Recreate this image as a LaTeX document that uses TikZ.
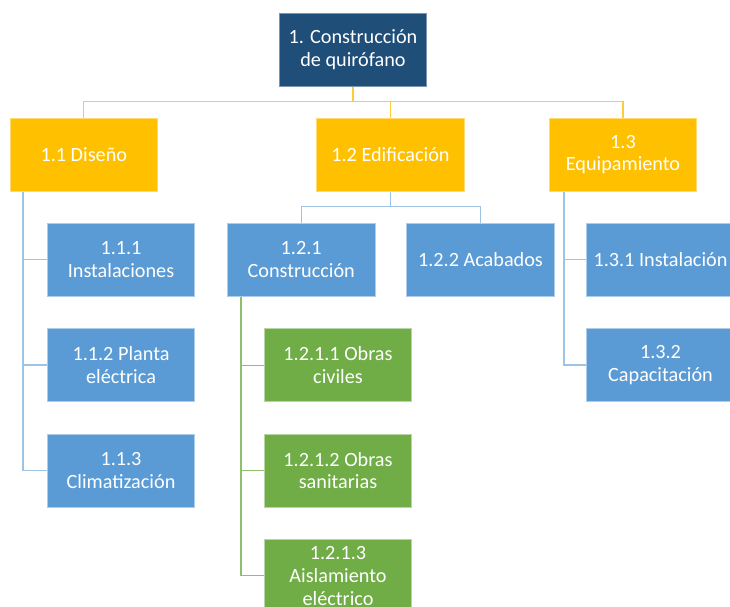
\documentclass[tikz,border=0pt]{standalone}
\usepackage{fontspec}
\setmainfont{Carlito}
\usetikzlibrary{calc}
\definecolor{topblue}{HTML}{1F4E79}
\definecolor{gold}{HTML}{FFC000}
\definecolor{midblue}{HTML}{5B9BD5}
\definecolor{leaf}{HTML}{70AD47}
\definecolor{goldline}{HTML}{FFCB3A}
\definecolor{blueline}{HTML}{9DC3E6}
\definecolor{greenline}{HTML}{8CC16B}
\tikzset{
  box/.style={rectangle, inner sep=0pt, minimum width=147.5bp, minimum height=73bp,
    align=center, text=white, font=\fontsize{20.3}{22.8}\selectfont, line width=0.8bp},
  rootbox/.style={box, fill=topblue, draw=topblue!60!white},
  phasebox/.style={box, fill=gold, draw=gold!55!white},
  taskbox/.style={box, fill=midblue, draw=midblue!50!white},
  subbox/.style={box, fill=leaf, draw=leaf!50!white},
  goldlink/.style={draw=goldline, line width=1.3bp},
  bluelink/.style={draw=blueline, line width=1.3bp},
  greenlink/.style={draw=greenline, line width=1.3bp}
}
\begin{document}
\begin{tikzpicture}[x=1bp,y=-1bp]
\useasboundingbox (0,0) rectangle (730,607);
\clip (0,0) rectangle (730,607);

% root
\node[rootbox, minimum height=73bp] (root) at (353,49.7) {1. Construcción\\de quirófano};

% level 1
\node[phasebox] (d) at (83.8,154.6) {1.1 Diseño};
\node[phasebox] (e) at (390.5,154.6) {1.2 Edificación};
\node[phasebox] (q) at (623,154.6) {1.3\\Equipamiento};

% level 2
\node[taskbox] (d1) at (121,259.8) {1.1.1\\Instalaciones};
\node[taskbox] (d2) at (121,365) {1.1.2 Planta\\eléctrica};
\node[taskbox] (d3) at (121,470.6) {1.1.3\\Climatización};
\node[taskbox] (e1) at (301.2,259.8) {1.2.1\\Construcción};
\node[taskbox] (e2) at (480.5,259.8) {1.2.2 Acabados};
\node[taskbox] (q1) at (660.5,259.8) {1.3.1 Instalación};
\node[taskbox] (q2) at (660.5,365) {1.3.2\\Capacitación};

% level 3
\node[subbox] (c1) at (338,365.3) {1.2.1.1 Obras\\civiles};
\node[subbox] (c2) at (338,470.6) {1.2.1.2 Obras\\sanitarias};
\node[subbox] (c3) at (338,575.8) {1.2.1.3\\Aislamiento\\eléctrico};

% root to phases
\coordinate (bus) at (353,101.7);
\draw[goldlink] (root.south) -- (root.south |- bus);
\draw[goldlink] (d.north) -- (d.north |- bus) -- (q.north |- bus) -- (q.north);
\draw[goldlink] (e.north) -- (e.north |- bus);

% Diseño branch
\coordinate (dstem) at ($(d.south west)+(13.5,0)$);
\draw[bluelink] (dstem) |- (d3.west);
\draw[bluelink] (dstem |- d1.west) -- (d1.west);
\draw[bluelink] (dstem |- d2.west) -- (d2.west);

% Edificación branch
\coordinate (ebus) at (391,206.7);
\draw[bluelink] (e.south) -- (e.south |- ebus);
\draw[bluelink] (e1.north) -- (e1.north |- ebus) -- (e2.north |- ebus) -- (e2.north);

% Construcción branch
\coordinate (cstem) at ($(e1.south west)+(14,0)$);
\draw[greenlink] (cstem) |- (c3.west);
\draw[greenlink] (cstem |- c1.west) -- (c1.west);
\draw[greenlink] (cstem |- c2.west) -- (c2.west);

% Equipamiento branch
\coordinate (qstem) at ($(q.south west)+(15,0)$);
\draw[bluelink] (qstem) |- (q2.west);
\draw[bluelink] (qstem |- q1.west) -- (q1.west);
\end{tikzpicture}
\end{document}
